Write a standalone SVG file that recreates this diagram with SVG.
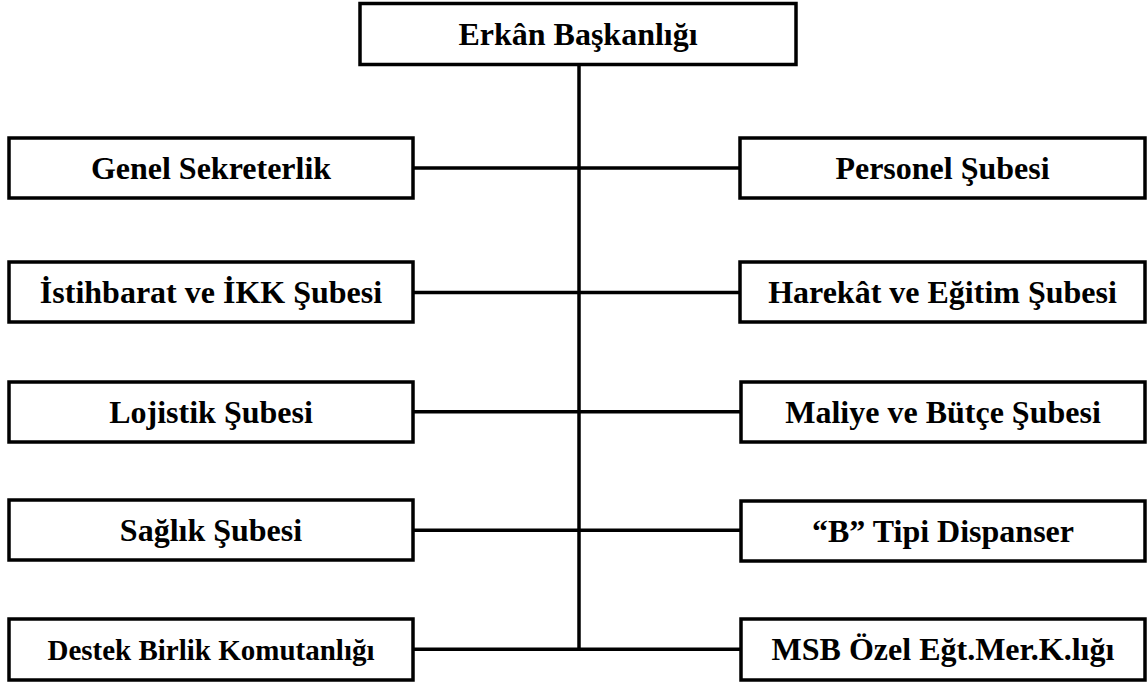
<svg xmlns="http://www.w3.org/2000/svg" width="1147" height="683" viewBox="0 0 1147 683">
<style>
rect.box{fill:#fff;stroke:#000;stroke-width:3.5}
.conn line{stroke:#000;stroke-width:3.5}
</style>
<rect width="1147" height="683" fill="#fff"/>
<g class="conn">
<line x1="579" y1="65" x2="579" y2="650"/>
<line x1="413" y1="168" x2="740" y2="168"/>
<line x1="413" y1="292.5" x2="740" y2="292.5"/>
<line x1="413" y1="411.7" x2="740" y2="411.7"/>
<line x1="413" y1="530.3" x2="740" y2="530.3"/>
<line x1="413" y1="649.3" x2="740" y2="649.3"/>
</g>
<g font-family="Liberation Serif, Times New Roman, DejaVu Serif, serif" font-weight="bold" font-size="32" text-anchor="middle" fill="#000">
<g id="n-erkan"><rect class="box" x="360" y="3.5" width="436" height="61"/><text x="578" y="45">Erkân Başkanlığı</text></g>
<g id="n-genel"><rect class="box" x="9" y="138" width="404" height="60"/><text x="211" y="179">Genel Sekreterlik</text></g>
<g id="n-istihbarat"><rect class="box" x="9" y="262" width="404" height="60"/><text x="211" y="303">İstihbarat ve İKK Şubesi</text></g>
<g id="n-lojistik"><rect class="box" x="9" y="382" width="404" height="60"/><text x="211" y="423">Lojistik Şubesi</text></g>
<g id="n-saglik"><rect class="box" x="9" y="500" width="404" height="60"/><text x="211" y="541">Sağlık Şubesi</text></g>
<g id="n-destek"><rect class="box" x="9" y="619" width="404" height="61"/><text x="211" y="660" font-size="29">Destek Birlik Komutanlığı</text></g>
<g id="n-personel"><rect class="box" x="740" y="138" width="405" height="60"/><text x="942.5" y="179">Personel Şubesi</text></g>
<g id="n-harekat"><rect class="box" x="740" y="262" width="405" height="60"/><text x="942.5" y="303">Harekât ve Eğitim Şubesi</text></g>
<g id="n-maliye"><rect class="box" x="741" y="382" width="404" height="60"/><text x="943" y="423">Maliye ve Bütçe Şubesi</text></g>
<g id="n-dispanser"><rect class="box" x="741" y="501" width="404" height="60"/><text x="943" y="542">“B” Tipi Dispanser</text></g>
<g id="n-msb"><rect class="box" x="741" y="619" width="404" height="61"/><text x="943" y="660">MSB Özel Eğt.Mer.K.lığı</text></g>
</g>
</svg>
